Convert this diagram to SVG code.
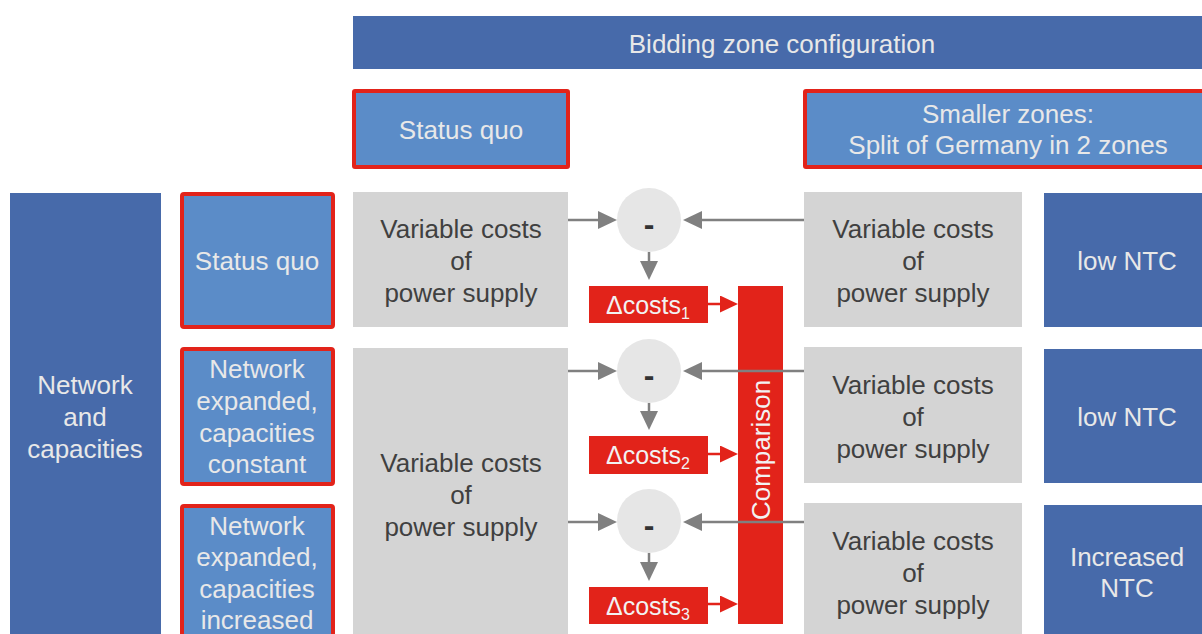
<svg xmlns="http://www.w3.org/2000/svg" width="1202" height="634" viewBox="0 0 1202 634">
<style>
text{font-family:"Liberation Sans",Arial,sans-serif;font-size:26px;text-anchor:middle}
.dk{fill:#476AAA}
.lb{fill:#5B8CC8}
.sel{fill:#5B8CC8;stroke:#E2231A;stroke-width:4}
.gr{fill:#D4D4D4}
.ci{fill:#E6E6E6}
.rd{fill:#E2231A}
.tl{fill:#E8E8E8}
.td{fill:#404040}
.tw{fill:#F2F2F2}
.mn{font-weight:bold;font-size:32px;fill:#333333}
.gl{stroke:#808080;stroke-width:2.5;fill:none;marker-end:url(#ga)}
.rl{stroke:#E2231A;stroke-width:2.5;fill:none;marker-end:url(#ra)}
</style>
<defs>
<marker id="ga" markerUnits="userSpaceOnUse" markerWidth="19" markerHeight="18" refX="2" refY="9" orient="auto"><path d="M0,0 L19,9 L0,18 z" fill="#808080"/></marker>
<marker id="ra" markerUnits="userSpaceOnUse" markerWidth="18" markerHeight="17" refX="2" refY="8.5" orient="auto"><path d="M0,0 L18,8.5 L0,17 z" fill="#E2231A"/></marker>
</defs>
<rect width="1202" height="634" fill="#FFFFFF"/>

<g id="banner"><rect class="dk" x="353" y="16" width="849" height="53"/><text class="tl" x="782" y="53">Bidding zone configuration</text></g>
<g id="top-status-quo"><rect class="sel" x="354" y="91" width="214" height="76" rx="1"/><text class="tl" x="461" y="139">Status quo</text></g>
<g id="top-smaller-zones"><rect class="sel" x="805" y="91" width="402" height="76" rx="1"/><text class="tl" x="1008" y="123">Smaller zones:</text><text class="tl" x="1008" y="154">Split of Germany in 2 zones</text></g>

<g id="network-capacities"><rect class="dk" x="10" y="193" width="151" height="441"/><text class="tl" x="85" y="394">Network</text><text class="tl" x="85" y="426">and</text><text class="tl" x="85" y="458">capacities</text></g>

<g id="row1-label"><rect class="sel" x="182" y="194" width="151" height="133" rx="2"/><text class="tl" x="257" y="270">Status quo</text></g>
<g id="row2-label"><rect class="sel" x="182" y="349" width="151" height="135" rx="2"/><text class="tl" x="257" y="378">Network</text><text class="tl" x="257" y="410">expanded,</text><text class="tl" x="257" y="442">capacities</text><text class="tl" x="257" y="473">constant</text></g>
<g id="row3-label"><rect class="sel" x="182" y="506" width="151" height="140" rx="2"/><text class="tl" x="257" y="535">Network</text><text class="tl" x="257" y="566">expanded,</text><text class="tl" x="257" y="598">capacities</text><text class="tl" x="257" y="629">increased</text></g>

<g id="sq-costs-1"><rect class="gr" x="353" y="192" width="215" height="135"/><text class="td" x="461" y="238">Variable costs</text><text class="td" x="461" y="270">of</text><text class="td" x="461" y="302">power supply</text></g>
<g id="sq-costs-23"><rect class="gr" x="353" y="348" width="215" height="286"/><text class="td" x="461" y="472">Variable costs</text><text class="td" x="461" y="504">of</text><text class="td" x="461" y="536">power supply</text></g>

<g id="sz-costs-1"><rect class="gr" x="804" y="192" width="218" height="135"/><text class="td" x="913" y="238">Variable costs</text><text class="td" x="913" y="270">of</text><text class="td" x="913" y="302">power supply</text></g>
<g id="sz-costs-2"><rect class="gr" x="804" y="347" width="218" height="136"/><text class="td" x="913" y="394">Variable costs</text><text class="td" x="913" y="426">of</text><text class="td" x="913" y="458">power supply</text></g>
<g id="sz-costs-3"><rect class="gr" x="804" y="503" width="218" height="131"/><text class="td" x="913" y="550">Variable costs</text><text class="td" x="913" y="582">of</text><text class="td" x="913" y="614">power supply</text></g>

<g id="ntc-1"><rect class="dk" x="1044" y="193" width="158" height="134"/><text class="tl" x="1127" y="270">low NTC</text></g>
<g id="ntc-2"><rect class="dk" x="1044" y="349" width="158" height="134"/><text class="tl" x="1127" y="426">low NTC</text></g>
<g id="ntc-3"><rect class="dk" x="1044" y="505" width="158" height="129"/><text class="tl" x="1127" y="566">Increased</text><text class="tl" x="1127" y="597">NTC</text></g>

<g id="diff-1"><circle class="ci" cx="649" cy="220" r="32"/><text class="mn" x="649" y="235">-</text></g>
<g id="diff-2"><circle class="ci" cx="649" cy="371" r="32"/><text class="mn" x="649" y="386">-</text></g>
<g id="diff-3"><circle class="ci" cx="649" cy="521" r="32"/><text class="mn" x="649" y="536">-</text></g>

<g id="dcosts-1"><rect class="rd" x="589" y="286" width="119" height="37"/><text class="tw" x="648" y="314" style="font-size:25px">Δcosts<tspan style="font-size:16px" dy="5">1</tspan></text></g>
<g id="dcosts-2"><rect class="rd" x="589" y="436" width="119" height="38"/><text class="tw" x="648" y="464" style="font-size:25px">Δcosts<tspan style="font-size:16px" dy="5">2</tspan></text></g>
<g id="dcosts-3"><rect class="rd" x="589" y="587" width="119" height="37"/><text class="tw" x="648" y="615" style="font-size:25px">Δcosts<tspan style="font-size:16px" dy="5">3</tspan></text></g>

<g id="comparison"><rect class="rd" x="738" y="286" width="45" height="338"/><text class="tw" transform="translate(770,450) rotate(-90)" x="0" y="0">Comparison</text></g>

<g id="connectors">
<path class="gl" d="M568,220 L600,220"/>
<path class="gl" d="M804,220 L700,220"/>
<path class="gl" d="M649,252 L649,263"/>
<path class="gl" d="M568,371 L600,371"/>
<path class="gl" d="M804,371 L700,371"/>
<path class="gl" d="M649,403 L649,413"/>
<path class="gl" d="M568,522 L600,522"/>
<path class="gl" d="M804,522 L700,522"/>
<path class="gl" d="M649,553 L649,564"/>
<path class="rl" d="M708,304 L722,304"/>
<path class="rl" d="M708,454 L722,454"/>
<path class="rl" d="M708,604 L722,604"/>
</g>
</svg>
